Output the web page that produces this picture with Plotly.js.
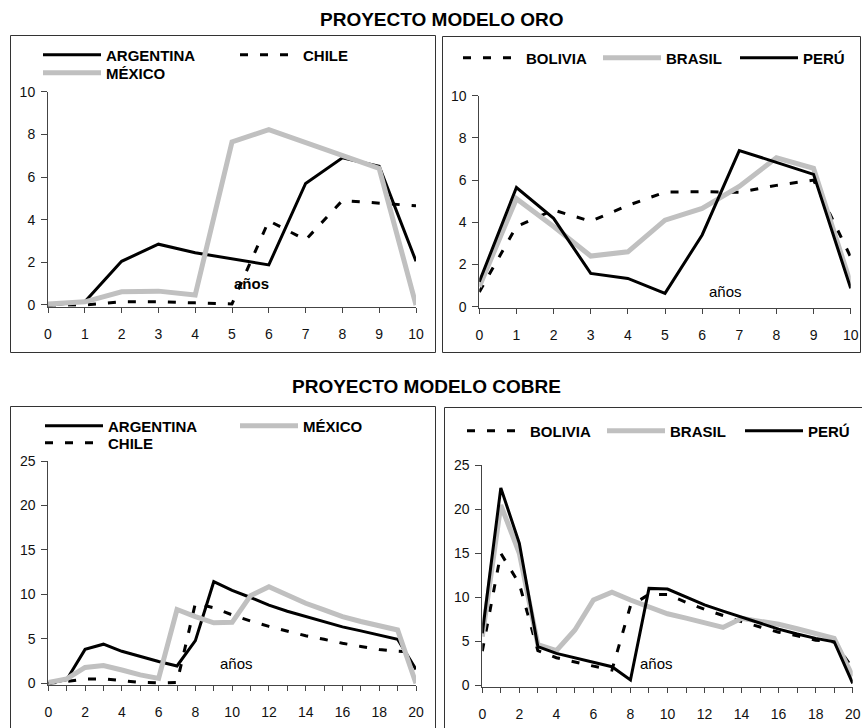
<!DOCTYPE html>
<html>
<head>
<meta charset="utf-8">
<script src="https://cdn.plot.ly/plotly-3.0.1.min.js"></script>
<style>html,body{margin:0;padding:0;background:#fff;}#chart{width:862px;height:728px;}</style>
</head>
<body>
<div id="chart"></div>
<script>
// ---------- DATA ----------
const oroYears = [0,1,2,3,4,5,6,7,8,9,10];
const oroArgentina = [0, 0.15, 2.05, 2.85, 2.45, 2.15, 1.88, 5.7, 6.9, 6.5, 2.05];
const oroChile     = [0, 0, 0.15, 0.15, 0.1, 0.05, 3.95, 3.05, 4.9, 4.77, 4.65];
const oroMexico    = [0.05, 0.15, 0.62, 0.65, 0.47, 7.65, 8.22, 7.6, 7.02, 6.4, 0];
const oroBolivia   = [0.7, 3.8, 4.58, 4.05, 4.8, 5.43, 5.45, 5.42, 5.75, 6.0, 2.35];
const oroBrasil    = [0.95, 5.12, 3.8, 2.4, 2.6, 4.1, 4.66, 5.7, 7.06, 6.56, 1.1];
const oroPeru      = [1.18, 5.65, 4.19, 1.58, 1.34, 0.63, 3.4, 7.4, 6.84, 6.27, 0.87];

const cobreYears = [0,1,2,3,4,5,6,7,8,9,10,11,12,13,14,15,16,17,18,19,20];
const cobreArgentina = [0, 0.4, 3.82, 4.4, 3.6, 3.0, 2.45, 1.95, 4.8, 11.43, 10.45, 9.65, 8.8, 8.1, 7.5, 6.9, 6.35, 5.9, 5.45, 4.95, 1.57];
const cobreChile     = [0, 0.2, 0.5, 0.5, 0.3, 0.1, 0.05, 0.1, 9.0, 8.5, 7.7, 7.0, 6.4, 5.9, 5.35, 4.95, 4.5, 4.15, 3.8, 3.6, 3.5];
const cobreMexico    = [0.1, 0.5, 1.78, 2.0, 1.5, 0.95, 0.55, 8.3, 7.5, 6.8, 6.86, 9.86, 10.87, 9.95, 9.0, 8.25, 7.5, 6.95, 6.45, 6.0, 0];
const cobreBolivia   = [3.85, 14.96, 11.5, 3.9, 3.1, 2.6, 2.15, 1.7, 9.0, 10.3, 10.3, 9.4, 8.6, 7.9, 7.2, 6.6, 6.0, 5.6, 5.1, 4.9, 1.9];
const cobreBrasil    = [5.5, 20.45, 14.96, 4.6, 3.9, 6.25, 9.66, 10.55, 9.66, 8.9, 8.1, 7.6, 7.1, 6.55, 7.58, 7.3, 6.9, 6.4, 5.9, 5.3, 1.0];
const cobrePeru      = [5.87, 22.4, 16.1, 4.36, 3.6, 3.1, 2.6, 2.08, 0.57, 10.98, 10.9, 10.0, 9.1, 8.4, 7.7, 7.0, 6.35, 5.8, 5.3, 4.92, 0.19];

const oroTickVals = [0,1,2,3,4,5,6,7,8,9,10];
const oroTickText = ['0','1','2','3','4','5','6','7','8','9','10'];
const cobreTickVals = [0,1,2,3,4,5,6,7,8,9,10,11,12,13,14,15,16,17,18,19,20];
const cobreTickText = ['0','','2','','4','','6','','8','','10','','12','','14','','16','','18','','20'];
const oroYTicks = [0,2,4,6,8,10];
const cobreYTicks = [0,5,10,15,20,25];

const titles = ['PROYECTO MODELO ORO', 'PROYECTO MODELO COBRE'];
const xLabel = 'años';

// ---------- STYLE / LAYOUT ----------
const W = 862, H = 728;
const px = x => x / W;
const py = y => 1 - y / H;
const FONT = 'Liberation Sans, Arial, sans-serif';
const GRAY = '#c0c0c0';

const solid = {color: '#000', width: 3};
const gray  = {color: GRAY, width: 5};
const dashed = {color: '#000', width: 3, dash: '8px,12px'};

function tr(x, y, name, line, xa, ya, leg) {
  return {x: x, y: y, name: name, type: 'scatter', mode: 'lines', line: line,
          xaxis: xa, yaxis: ya, legend: leg, showlegend: true, hoverinfo: 'skip'};
}

const data = [
  tr(oroYears, oroArgentina, 'ARGENTINA', solid, 'x', 'y', 'legend'),
  tr(oroYears, oroChile, 'CHILE', dashed, 'x', 'y', 'legend2'),
  tr(oroYears, oroMexico, 'MÉXICO', gray, 'x', 'y', 'legend3'),
  tr(oroYears, oroBolivia, 'BOLIVIA', dashed, 'x2', 'y2', 'legend4'),
  tr(oroYears, oroBrasil, 'BRASIL', gray, 'x2', 'y2', 'legend5'),
  tr(oroYears, oroPeru, 'PERÚ', solid, 'x2', 'y2', 'legend6'),
  tr(cobreYears, cobreArgentina, 'ARGENTINA', solid, 'x3', 'y3', 'legend7'),
  tr(cobreYears, cobreChile, 'CHILE', dashed, 'x3', 'y3', 'legend8'),
  tr(cobreYears, cobreMexico, 'MÉXICO', gray, 'x3', 'y3', 'legend9'),
  tr(cobreYears, cobreBolivia, 'BOLIVIA', dashed, 'x4', 'y4', 'legend10'),
  tr(cobreYears, cobreBrasil, 'BRASIL', gray, 'x4', 'y4', 'legend11'),
  tr(cobreYears, cobrePeru, 'PERÚ', solid, 'x4', 'y4', 'legend12')
];

const AX = '#444';
function xAxis(dom, anchor, vals, text, range) {
  return {domain: dom, anchor: anchor, range: range, tickvals: vals, ticktext: text,
          showline: true, linecolor: AX, linewidth: 1, ticks: 'outside', ticklen: 5,
          tickcolor: AX, tickwidth: 1, showgrid: false, zeroline: false,
          tickfont: {family: FONT, size: 14, color: '#111'}, ticklabelstandoff: 9,
          fixedrange: true};
}
function xOverlay(over, anchor, vals, range) {
  return {overlaying: over, anchor: anchor, range: range, tickvals: vals,
          showticklabels: false, showline: false, ticks: 'inside', ticklen: 5,
          tickcolor: AX, tickwidth: 1, showgrid: false, zeroline: false, fixedrange: true};
}
function yAxis(dom, anchor, vals, range) {
  return {domain: dom, anchor: anchor, range: range, tickvals: vals,
          showline: true, linecolor: AX, linewidth: 1, ticks: 'outside', ticklen: 6,
          tickcolor: AX, tickwidth: 1, showgrid: false, zeroline: false,
          tickfont: {family: FONT, size: 14, color: '#111'}, ticklabelstandoff: 3,
          fixedrange: true};
}

const layout = {
  width: W, height: H,
  showlegend: true,
  margin: {l: 0, r: 0, t: 0, b: 0},
  paper_bgcolor: '#fff', plot_bgcolor: 'rgba(0,0,0,0)',
  font: {family: FONT, color: '#000'},
  xaxis:  xAxis([px(48), px(416)], 'y', oroTickVals, oroTickText, [0, 10]),
  yaxis:  yAxis([py(306.7), py(91.7)], 'x', oroYTicks, [-0.08, 10]),
  xaxis2: xAxis([px(479.3), px(850.7)], 'y2', oroTickVals, oroTickText, [0, 10]),
  yaxis2: yAxis([py(308.4), py(95.7)], 'x2', oroYTicks, [-0.08, 10]),
  xaxis3: xAxis([px(48.3), px(416)], 'y3', cobreTickVals, cobreTickText, [0, 20]),
  yaxis3: yAxis([py(685.1), py(461)], 'x3', cobreYTicks, [-0.2, 25]),
  xaxis4: xAxis([px(482.3), px(852.7)], 'y4', cobreTickVals, cobreTickText, [0, 20]),
  yaxis4: yAxis([py(686.8), py(465)], 'x4', cobreYTicks, [-0.2, 25]),
  xaxis5: xOverlay('x', 'y', oroTickVals, [0, 10]),
  xaxis6: xOverlay('x2', 'y2', oroTickVals, [0, 10]),
  xaxis7: xOverlay('x3', 'y3', cobreTickVals, [0, 20]),
  xaxis8: xOverlay('x4', 'y4', cobreTickVals, [0, 20]),
  shapes: [
    {type: 'rect', xref: 'paper', yref: 'paper', x0: px(10.5), x1: px(435.5), y0: py(352.5), y1: py(35.5), line: {color: '#333', width: 1}, layer: 'below'},
    {type: 'rect', xref: 'paper', yref: 'paper', x0: px(442.5), x1: px(860.5), y0: py(352.5), y1: py(36.5), line: {color: '#333', width: 1}, layer: 'below'},
    {type: 'rect', xref: 'paper', yref: 'paper', x0: px(10.5), x1: px(435.5), y0: py(740), y1: py(406.5), line: {color: '#333', width: 1}, layer: 'below'},
    {type: 'rect', xref: 'paper', yref: 'paper', x0: px(444.5), x1: px(870), y0: py(740), y1: py(407.5), line: {color: '#333', width: 1}, layer: 'below'}
  ],
  annotations: [
    {xref: 'paper', yref: 'paper', x: px(442), y: py(19), text: '<b>' + titles[0] + '</b>', showarrow: false, font: {family: FONT, size: 19, color: '#000'}, xanchor: 'center', yanchor: 'middle'},
    {xref: 'paper', yref: 'paper', x: px(426), y: py(386), text: '<b>' + titles[1] + '</b>', showarrow: false, font: {family: FONT, size: 19, color: '#000'}, xanchor: 'center', yanchor: 'middle'},
    {xref: 'x', yref: 'y', x: 5.52, y: 1.03, text: '<b>' + xLabel + '</b>', showarrow: false, font: {family: FONT, size: 15, color: '#000'}},
    {xref: 'x2', yref: 'y2', x: 6.64, y: 0.7, text: xLabel, showarrow: false, font: {family: FONT, size: 15, color: '#000'}},
    {xref: 'x3', yref: 'y3', x: 10.23, y: 2.28, text: xLabel, showarrow: false, font: {family: FONT, size: 15, color: '#000'}},
    {xref: 'x4', yref: 'y4', x: 9.38, y: 2.5, text: xLabel, showarrow: false, font: {family: FONT, size: 15, color: '#000'}}
  ]
};

// legends: one per series, placed where the original legend entries sit
const legendSpots = [
  ['legend', 43, 55], ['legend2', 240, 55], ['legend3', 43, 73],
  ['legend4', 463, 58], ['legend5', 603, 58], ['legend6', 740, 58],
  ['legend7', 45, 426], ['legend8', 45, 443], ['legend9', 240, 426],
  ['legend10', 467, 431], ['legend11', 607, 431], ['legend12', 745, 431]
];
legendSpots.forEach(function (s) {
  layout[s[0]] = {visible: true, x: px(s[1] - 5), y: py(s[2]), xanchor: 'left', yanchor: 'middle',
    orientation: 'h', bgcolor: 'rgba(0,0,0,0)', borderwidth: 0, itemwidth: 58,
    font: {family: FONT, size: 15, color: '#000', weight: 'bold'}, itemclick: false, itemdoubleclick: false};
});

Plotly.newPlot('chart', data, layout, {displayModeBar: false, staticPlot: true});
</script>
</body>
</html>
